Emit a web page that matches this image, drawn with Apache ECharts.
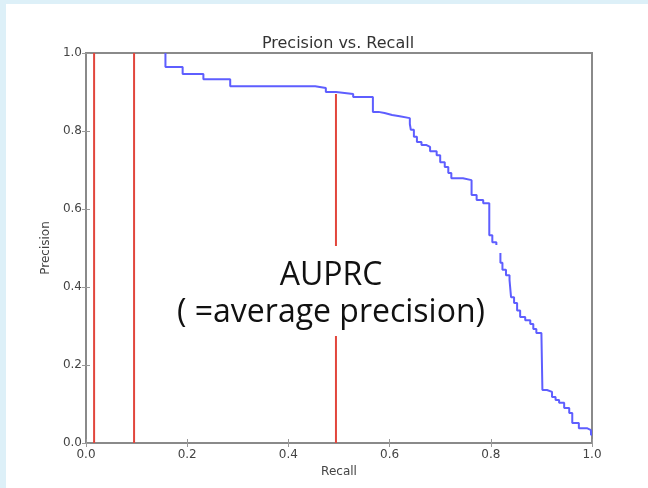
<!DOCTYPE html>
<html>
<head>
<meta charset="utf-8">
<script src="https://cdn.jsdelivr.net/npm/echarts@6/dist/echarts.min.js"></script>
<style>
  html, body { margin: 0; padding: 0; background: #ffffff; }
  #chart { width: 648px; height: 488px; }
</style>
</head>
<body>
<div id="chart"></div>
<script>
// ---- data ----
const chartTitle = 'Precision vs. Recall';
const xAxisName = 'Recall';
const yAxisName = 'Precision';
const tickLabels = ['0.0', '0.2', '0.4', '0.6', '0.8', '1.0'];

// precision-recall staircase (recall, precision), first part
const prCurvePart1 = [
  [0.157, 1.0], [0.157, 0.964], [0.191, 0.946], [0.232, 0.933], [0.285, 0.915],
  [0.453, 0.910], [0.474, 0.900], [0.494, 0.895], [0.528, 0.887], [0.567, 0.849],
  [0.578, 0.846], [0.590, 0.841], [0.605, 0.838], [0.620, 0.833], [0.640, 0.818],
  [0.642, 0.803], [0.648, 0.785], [0.654, 0.772], [0.663, 0.764], [0.673, 0.759],
  [0.680, 0.748], [0.693, 0.738], [0.700, 0.720], [0.709, 0.708], [0.716, 0.692],
  [0.722, 0.679], [0.745, 0.674], [0.762, 0.669], [0.762, 0.636], [0.772, 0.623],
  [0.785, 0.615], [0.797, 0.610], [0.797, 0.533], [0.803, 0.515], [0.811, 0.508]
];
// second part (after the small gap)
const prCurvePart2 = [
  [0.819, 0.487], [0.819, 0.462], [0.823, 0.444], [0.830, 0.430], [0.837, 0.418],
  [0.840, 0.374], [0.846, 0.359], [0.852, 0.340], [0.858, 0.323], [0.868, 0.315],
  [0.878, 0.305], [0.884, 0.292], [0.890, 0.282], [0.900, 0.277], [0.902, 0.136],
  [0.911, 0.131], [0.921, 0.118], [0.928, 0.110], [0.935, 0.103], [0.945, 0.090],
  [0.955, 0.077], [0.961, 0.051], [0.974, 0.038], [0.990, 0.033], [0.998, 0.021],
  [1.0, 0.021]
];

// red vertical threshold lines: [recall, top precision]
const thresholdRecall = [0.016, 0.095, 0.494];
const thresholdTop = [1.0, 1.0, 0.895];

const annotationLines = ['AUPRC', '( =average precision)'];

// ---- chart ----
const chart = echarts.init(document.getElementById('chart'), null, { renderer: 'canvas' });

const tickFont = { fontFamily: 'DejaVu Sans', fontSize: 12, color: '#444' };

const redSeries = thresholdRecall.map((r, i) => ({
  type: 'line',
  data: [[r, 0], [r, thresholdTop[i]]],
  symbol: 'none',
  lineStyle: { color: '#e2463c', width: 2 },
  silent: true,
  z: 2
}));

const curveData = prCurvePart1.concat([[null, null]], prCurvePart2);

chart.setOption({
  animation: false,
  backgroundColor: '#ffffff',
  title: {
    text: chartTitle,
    left: 333,
    top: 31,
    textAlign: 'center',
    textStyle: { fontFamily: 'DejaVu Sans', fontSize: 16, fontWeight: 'normal', color: '#333' }
  },
  grid: {
    left: 86, right: 56, top: 53, bottom: 45,
    show: true,
    borderColor: '#8a8a8a',
    borderWidth: 2,
    backgroundColor: 'transparent'
  },
  xAxis: [{
    type: 'value', min: 0, max: 1, interval: 0.2,
    position: 'bottom',
    name: xAxisName, nameLocation: 'middle', nameGap: 20,
    nameTextStyle: tickFont,
    axisLine: { show: false },
    axisTick: { show: true, inside: true, length: 4, lineStyle: { color: '#999' } },
    axisLabel: { margin: 6, formatter: v => tickLabels[Math.round(v * 5)], ...tickFont },
    splitLine: { show: false }
  }, {
    type: 'value', min: 0, max: 1, interval: 0.2,
    position: 'top',
    axisLine: { show: false },
    axisTick: { show: true, inside: true, length: 4, lineStyle: { color: '#999' } },
    axisLabel: { show: false },
    splitLine: { show: false }
  }],
  yAxis: [{
    type: 'value', min: 0, max: 1, interval: 0.2,
    position: 'left',
    name: yAxisName, nameLocation: 'middle', nameGap: 22,
    nameTextStyle: tickFont,
    axisLine: { show: false },
    axisTick: { show: true, inside: true, length: 4, lineStyle: { color: '#999' } },
    axisLabel: { margin: 4, formatter: v => tickLabels[Math.round(v * 5)], ...tickFont },
    splitLine: { show: false }
  }, {
    type: 'value', min: 0, max: 1, interval: 0.2,
    position: 'right',
    axisLine: { show: false },
    axisTick: { show: true, inside: true, length: 4, lineStyle: { color: '#999' } },
    axisLabel: { show: false },
    splitLine: { show: false }
  }],
  series: redSeries.concat([{
    type: 'line',
    data: curveData,
    step: 'end',
    connectNulls: false,
    symbol: 'none',
    lineStyle: { color: '#5e5eff', width: 2 },
    silent: true,
    z: 3
  }]),
  graphic: [
    { type: 'rect', shape: { x: 0, y: 0, width: 6, height: 488 }, style: { fill: '#ddf0f8' }, silent: true },
    { type: 'rect', shape: { x: 0, y: 0, width: 648, height: 4 }, style: { fill: '#ddf0f8' }, silent: true },
    { type: 'rect', shape: { x: 300, y: 246, width: 70, height: 90 }, style: { fill: '#ffffff' }, silent: true, z: 10 },
    {
      type: 'text', x: 331, y: 257, z: 11,
      style: {
        text: annotationLines.join('\n'),
        textAlign: 'center',
        fontFamily: 'Open Sans', fontSize: 32, lineHeight: 37,
        fill: '#111'
      }
    }
  ]
});
</script>
</body>
</html>
